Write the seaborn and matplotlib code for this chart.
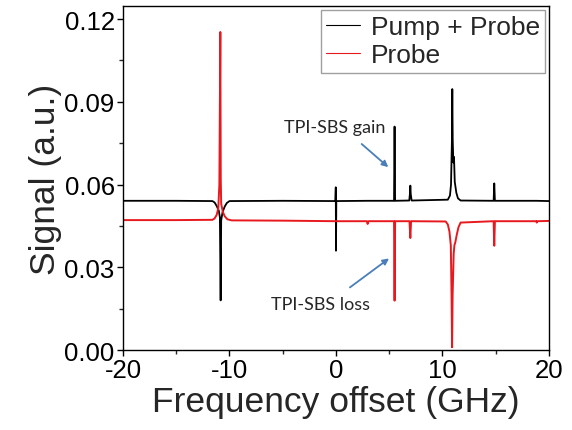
import pandas as pd
import numpy as np
import matplotlib
matplotlib.use("Agg")
import matplotlib.pyplot as plt
from matplotlib.ticker import MultipleLocator, FormatStrFormatter
import seaborn as sns

# Pump + Probe trace (GHz, a.u.)
pp_freq = [-20.0, -15.0, -11.6, -11.4, -11.2, -11.0, -10.9, -10.83, -10.78, -10.65,
           -10.45, -10.25, -10.0, -5.0, -0.06, -0.02, 0.0, 0.03, 3.0, 5.45, 5.5, 5.55,
           6.88, 6.95, 6.98, 7.02, 7.1, 10.5, 10.7, 10.8, 10.88, 10.92, 10.96, 11.02,
           11.08, 11.15, 11.3, 11.45, 11.7, 14.8, 14.86, 14.92, 18.8, 20.0]
pp_sig = [0.0541, 0.0541, 0.0540, 0.0535, 0.0522, 0.0505, 0.0480, 0.0180, 0.0470, 0.0500,
          0.0520, 0.0533, 0.0540, 0.0541, 0.0540, 0.0590, 0.0360, 0.0540, 0.0541, 0.0541, 0.0810, 0.0541,
          0.0542, 0.0570, 0.0596, 0.0565, 0.0542, 0.0545, 0.0560, 0.0600, 0.0750, 0.0946, 0.0760, 0.0680,
          0.0700, 0.0610, 0.0570, 0.0550, 0.0542, 0.0541, 0.0604, 0.0541, 0.0541, 0.0540]

# Probe trace
pr_freq = [-20.0, -15.0, -11.6, -11.4, -11.2, -11.05, -10.95, -10.9, -10.86, -10.82,
           -10.78, -10.62, -10.45, -10.2, -9.8, -5.0, 0.0, 2.9, 2.97, 3.05, 5.45, 5.5,
           5.55, 6.9, 6.98, 7.05, 10.3, 10.5, 10.65, 10.78, 10.85, 10.9, 10.95, 11.05,
           11.12, 11.2, 11.35, 11.5, 11.7, 14.8, 14.86, 14.92, 18.8, 18.85, 18.9, 20.0]
pr_sig = [0.0471, 0.0471, 0.0472, 0.0477, 0.0490, 0.0515, 0.0600, 0.0900, 0.1153, 0.0620,
          0.0530, 0.0500, 0.0485, 0.0474, 0.0470, 0.0469, 0.0467, 0.0467, 0.0457, 0.0467, 0.0467, 0.0179,
          0.0467, 0.0467, 0.0406, 0.0467, 0.0466, 0.0455, 0.0430, 0.0380, 0.0200, 0.0010, 0.0200, 0.0350,
          0.0380, 0.0390, 0.0420, 0.0445, 0.0462, 0.0467, 0.0378, 0.0467, 0.0467, 0.0462, 0.0467, 0.0468]

x_ticks = [-20, -10, 0, 10, 20]
y_ticks = [0.00, 0.03, 0.06, 0.09, 0.12]

df_pp = pd.DataFrame({"f": pp_freq, "s": pp_sig})
df_pr = pd.DataFrame({"f": pr_freq, "s": pr_sig})

sns.set_theme(style="ticks")
plt.rcParams["font.family"] = ["Liberation Sans", "DejaVu Sans"]
plt.rcParams["axes.unicode_minus"] = False

fig = plt.figure(figsize=(5.72, 4.31), dpi=100)
ax = fig.add_axes([0.215, 0.1856, 0.7448, 0.798])

sns.lineplot(data=df_pp, x="f", y="s", color="black", lw=1.3, sort=False,
             estimator=None, label="Pump + Probe", ax=ax)
sns.lineplot(data=df_pr, x="f", y="s", color="#e8191e", lw=1.4, sort=False,
             estimator=None, label="Probe", ax=ax)

ax.set_xlim(-20, 20)
ax.set_ylim(0, 0.1247)
ax.set_xticks(x_ticks)
ax.set_yticks(y_ticks)
ax.xaxis.set_minor_locator(MultipleLocator(5))
ax.yaxis.set_minor_locator(MultipleLocator(0.015))
ax.yaxis.set_major_formatter(FormatStrFormatter("%.2f"))
ax.tick_params(which="major", direction="out", length=4.5, width=1, labelsize=18.5, pad=1.5,
               top=False, right=False, colors="black")
ax.tick_params(which="minor", direction="out", length=2.8, width=1, top=False, right=False)
for sp in ax.spines.values():
    sp.set_visible(True)
    sp.set_color("black")
    sp.set_linewidth(1)

ax.set_xlabel("Frequency offset (GHz)", fontsize=25.5, labelpad=2)
ax.set_ylabel("Signal (a.u.)", fontsize=25.5, labelpad=2)

leg = ax.legend(loc="upper right", fontsize=19, frameon=True, fancybox=False,
                edgecolor="#888888", borderaxespad=0.15, handlelength=1.3,
                handletextpad=0.4, labelspacing=0.15, borderpad=0.2)
leg.get_frame().set_linewidth(1)
for h in leg.get_lines():
    h.set_linewidth(0.8)

# annotations: text and blue arrows
ann_font = dict(fontsize=13, family=["Lato", "DejaVu Sans"], ha="center", va="center")
ax.text(-0.14, 0.0809, "TPI-SBS gain", **ann_font)
ax.text(-1.46, 0.0167, "TPI-SBS loss", **ann_font)
arrow_kw = dict(arrowstyle="-|>", color="#4a7ebb", lw=1.3, mutation_scale=9,
                shrinkA=0, shrinkB=0)
ax.annotate("", xy=(4.91, 0.0663), xytext=(2.41, 0.0747), arrowprops=arrow_kw)
ax.annotate("", xy=(4.98, 0.0332), xytext=(1.31, 0.0227), arrowprops=arrow_kw)

fig.savefig("out.png", dpi=100)
